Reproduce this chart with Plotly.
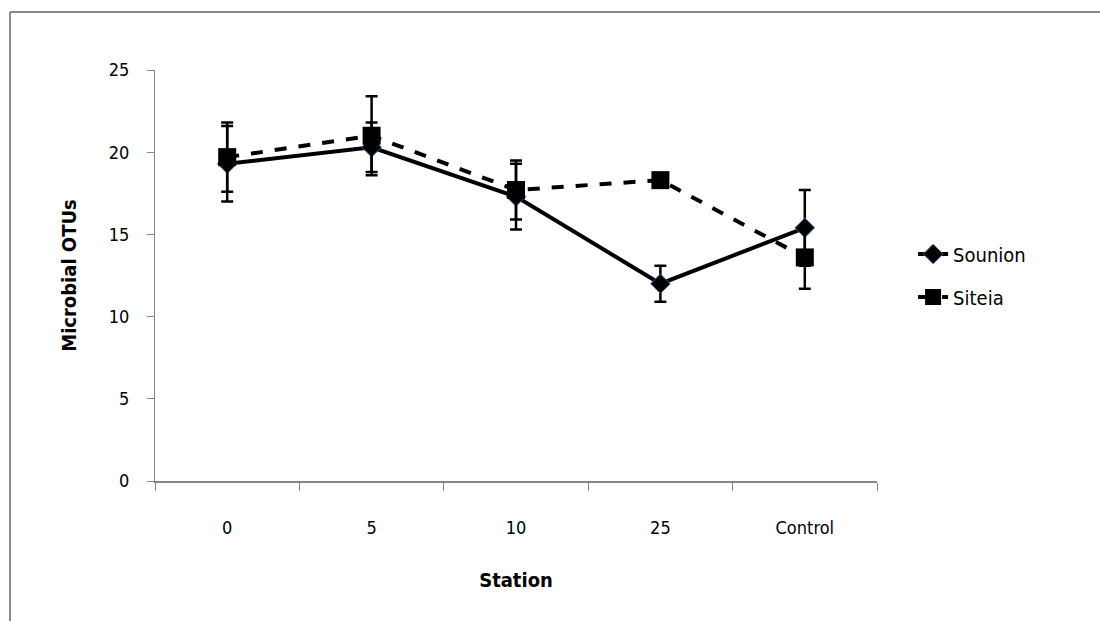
import plotly.graph_objects as go

stations = ["0", "5", "10", "25", "Control"]
sounion = [19.3, 20.3, 17.3, 12.0, 15.4]
sounion_err = [2.3, 1.5, 2.0, 1.1, 2.3]
siteia = [19.7, 21.0, 17.7, 18.3, 13.6]
siteia_err = [2.1, 2.4, 1.8, 0.3, 1.9]

FONT = "DejaVu Sans Condensed, Liberation Sans Narrow, sans-serif"

fig = go.Figure()
fig.add_trace(go.Scatter(
    x=stations, y=sounion, name="Sounion", mode="lines+markers",
    line=dict(color="black", width=4),
    marker=dict(symbol="diamond", size=15, color="black", line=dict(color="#2f5f9a", width=1)),
    error_y=dict(type="data", array=sounion_err, visible=True, color="black", thickness=2.5, width=6),
    legendgroup="a",
))
fig.add_trace(go.Scatter(
    x=stations, y=siteia, name="Siteia", mode="lines+markers",
    line=dict(color="black", width=4, dash="dash"),
    marker=dict(symbol="square", size=18, color="black"),
    error_y=dict(type="data", array=siteia_err, visible=True, color="black", thickness=2.5, width=6),
    legendgroup="b",
))

fig.update_layout(
    width=1100, height=621,
    margin=dict(l=155, r=223, t=70, b=140),
    paper_bgcolor="white", plot_bgcolor="white",
    font=dict(family=FONT, size=18, color="black"),
    showlegend=True,
    legend=dict(x=1.05, y=0.5, xanchor="left", yanchor="middle",
                font=dict(family=FONT, size=20), tracegroupgap=14,
                bgcolor="rgba(0,0,0,0)"),
    xaxis=dict(type="category", range=[-0.5, 4.5], tickson="boundaries", ticks="outside", ticklen=8,
               tickcolor="#868686", showline=True, linecolor="#868686", linewidth=2,
               showgrid=False, ticklabelstandoff=29, tickfont=dict(size=18),
               title=dict(text="<b>Station</b>", font=dict(family=FONT, size=20), standoff=36)),
    yaxis=dict(range=[0, 25], tickvals=[0, 5, 10, 15, 20, 25], ticks="outside", ticklen=7,
               tickcolor="#868686", showline=True, linecolor="#868686", linewidth=1,
               showgrid=False, zeroline=False, ticklabelstandoff=14, tickfont=dict(size=18),
               title=dict(text="<b>Microbial OTUs</b>", font=dict(family=FONT, size=20), standoff=26)),
    shapes=[
        dict(type="line", xref="paper", yref="paper", x0=-0.2008, x1=1.6, y0=1.1411, y1=1.1411,
             line=dict(color="#888888", width=2)),
        dict(type="line", xref="paper", yref="paper", x0=-0.2008, x1=-0.2008, y0=-0.5, y1=1.1411,
             line=dict(color="#888888", width=2)),
    ],
)

fig.write_html("out.html")
